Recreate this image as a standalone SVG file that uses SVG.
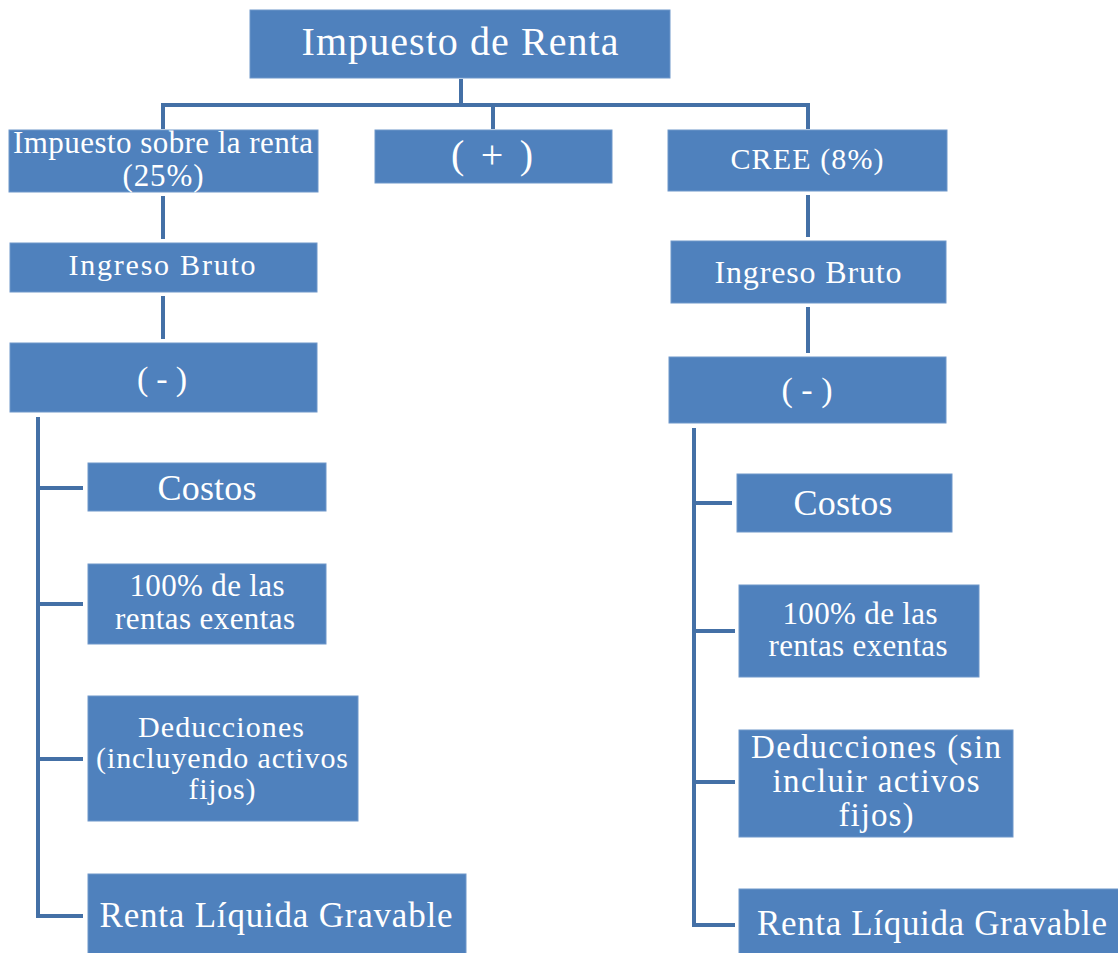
<svg xmlns="http://www.w3.org/2000/svg" width="1118" height="953" viewBox="0 0 1118 953">
<style>
.box{fill:#4F81BD;stroke:#6F97CA;stroke-width:1}
.t{font-family:"Liberation Serif","Times New Roman",serif;fill:#FFFFFF;text-anchor:middle}
.c{stroke:#4470A6;stroke-width:4;fill:none;stroke-linecap:butt}
</style>
<rect width="1118" height="953" fill="#FFFFFF"/>
<g id="connectors">
<path class="c" d="M461,79 V105 M161,105 H810 M163,105 V129 M493,105 V129 M808,105 V129"/>
<path class="c" d="M163,196 V239 M163,296 V339"/>
<path class="c" d="M808,195 V237 M808,307 V353"/>
<path class="c" d="M38,417 V918 M38,488 H83 M38,604 H83 M38,759 H83 M36,916 H83"/>
<path class="c" d="M694,428 V927 M694,503 H732 M694,631 H735 M694,782 H735 M692,925 H735"/>
</g>
<g id="n_root">
<rect class="box" x="250" y="10" width="420" height="68"/>
<text class="t" x="460" y="55" font-size="40" textLength="317" lengthAdjust="spacing">Impuesto de Renta</text>
</g>
<g id="n_isr">
<rect class="box" x="9" y="130" width="309" height="62"/>
<text class="t" x="163" y="153" font-size="31" textLength="300" lengthAdjust="spacing">Impuesto sobre la renta</text>
<text class="t" x="163" y="186" font-size="31" textLength="81" lengthAdjust="spacing">(25%)</text>
</g>
<g id="n_plus">
<rect class="box" x="375" y="130" width="237" height="53"/>
<text class="t" x="492" y="168" font-size="40" textLength="82" lengthAdjust="spacing">( + )</text>
</g>
<g id="n_cree">
<rect class="box" x="668" y="130" width="279" height="61"/>
<text class="t" x="807" y="169" font-size="30" textLength="153" lengthAdjust="spacing">CREE (8%)</text>
</g>
<g id="n_ib_left">
<rect class="box" x="10" y="243" width="307" height="49"/>
<text class="t" x="162" y="275" font-size="30" textLength="187" lengthAdjust="spacing">Ingreso  Bruto</text>
</g>
<g id="n_ib_right">
<rect class="box" x="671" y="241" width="275" height="62"/>
<text class="t" x="808" y="283" font-size="32" textLength="187" lengthAdjust="spacing">Ingreso Bruto</text>
</g>
<g id="n_minus_left">
<rect class="box" x="10" y="343" width="307" height="69"/>
<text class="t" x="162" y="390" font-size="34" textLength="50" lengthAdjust="spacing">( - )</text>
</g>
<g id="n_minus_right">
<rect class="box" x="669" y="357" width="277" height="66"/>
<text class="t" x="807" y="401" font-size="34" textLength="51" lengthAdjust="spacing">( - )</text>
</g>
<g id="n_costos_left">
<rect class="box" x="88" y="463" width="238" height="48"/>
<text class="t" x="207" y="500" font-size="36" textLength="99" lengthAdjust="spacing">Costos</text>
</g>
<g id="n_rentas_left">
<rect class="box" x="88" y="564" width="238" height="80"/>
<text class="t" x="207" y="596" font-size="31" textLength="155" lengthAdjust="spacing">100% de las</text>
<text class="t" x="205" y="629" font-size="31" textLength="180" lengthAdjust="spacing">rentas exentas</text>
</g>
<g id="n_deduc_left">
<rect class="box" x="88" y="696" width="270" height="125"/>
<text class="t" x="221" y="737" font-size="30" textLength="166" lengthAdjust="spacing">Deducciones</text>
<text class="t" x="222" y="768" font-size="30" textLength="252" lengthAdjust="spacing">(incluyendo activos</text>
<text class="t" x="222" y="799" font-size="30" textLength="67" lengthAdjust="spacing">fijos)</text>
</g>
<g id="n_rlg_left">
<rect class="box" x="88" y="874" width="378" height="85"/>
<text class="t" x="276" y="927" font-size="35" textLength="353" lengthAdjust="spacing">Renta Líquida Gravable</text>
</g>
<g id="n_costos_right">
<rect class="box" x="737" y="474" width="215" height="58"/>
<text class="t" x="843" y="515" font-size="36" textLength="99" lengthAdjust="spacing">Costos</text>
</g>
<g id="n_rentas_right">
<rect class="box" x="739" y="585" width="240" height="92"/>
<text class="t" x="860" y="624" font-size="31" textLength="155" lengthAdjust="spacing">100% de las</text>
<text class="t" x="858" y="656" font-size="31" textLength="179" lengthAdjust="spacing">rentas exentas</text>
</g>
<g id="n_deduc_right">
<rect class="box" x="739" y="730" width="274" height="107"/>
<text class="t" x="876" y="758" font-size="33" textLength="250" lengthAdjust="spacing">Deducciones (sin</text>
<text class="t" x="876" y="792" font-size="33" textLength="207" lengthAdjust="spacing">incluir activos</text>
<text class="t" x="876" y="826" font-size="33" textLength="75" lengthAdjust="spacing">fijos)</text>
</g>
<g id="n_rlg_right">
<rect class="box" x="739" y="889" width="385" height="70"/>
<text class="t" x="932" y="935" font-size="35" textLength="350" lengthAdjust="spacing">Renta Líquida Gravable</text>
</g>
</svg>
